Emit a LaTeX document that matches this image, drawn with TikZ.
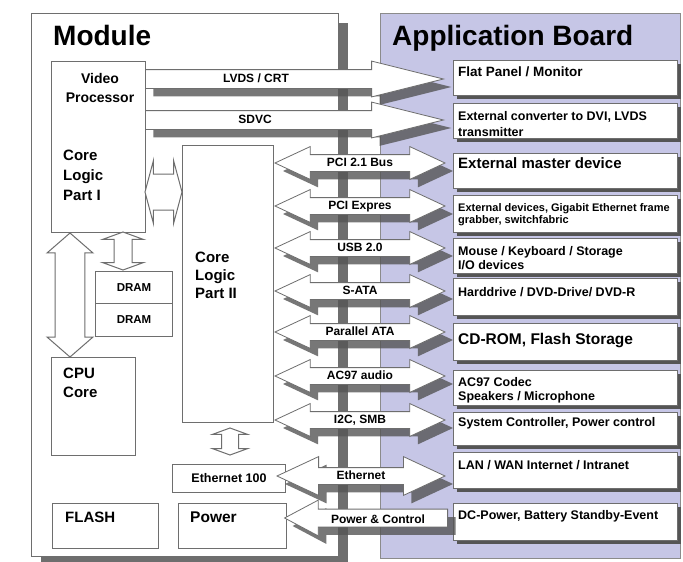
\documentclass[tikz,border=0pt]{standalone}
\usepackage{fontspec}
\setmainfont{Liberation Sans}
\usetikzlibrary{shapes.arrows,shadows,positioning}

\definecolor{boardfill}{RGB}{198,198,230}
\definecolor{lineg}{RGB}{110,110,110}
\definecolor{shadeg}{RGB}{85,85,85}

\newcommand{\bfsz}[2]{\bfseries\fontsize{#1}{#2}\selectfont}

\tikzset{
  box/.style={draw=lineg, line width=1pt, fill=white, anchor=north west, inner sep=0pt},
  appbox/.style={box, minimum width=224pt, minimum height=35pt,
    drop shadow={shadow xshift=3pt, shadow yshift=-3pt, fill=shadeg, opacity=1}},
  apptext/.style={anchor=north west, align=left, inner sep=0pt, xshift=5pt, yshift=-7pt, font=\bfsz{12.5}{15}},
  boxtext/.style={anchor=north west, inner sep=0pt, xshift=13pt, yshift=-8.5pt, font=\bfsz{15}{15}},
  bus/.style={draw=lineg, line width=.8pt, fill=white, inner xsep=0pt, inner ysep=2.5pt,
    text height=8.5pt, text depth=2.5pt, font=\bfsz{12}{12},
    drop shadow={shadow xshift=8pt, shadow yshift=-8pt, fill=shadeg, opacity=.8}},
  vbus/.style={bus, single arrow, anchor=tail, inner ysep=3.5pt, minimum height=298pt, minimum width=35pt,
    single arrow head extend=8.5pt, single arrow tip angle=28},
  dbus/.style={bus, double arrow, minimum height=170pt, minimum width=32pt,
    double arrow head extend=8pt, double arrow tip angle=50},
  buslabel/.style={inner sep=0pt, font=\bfsz{12}{12}},
  link/.style={draw=lineg, line width=1pt, fill=white, double arrow},
}

\begin{document}
\begin{tikzpicture}[x=1pt, y=-1pt]
  \useasboundingbox (0,0) rectangle (683,562);

  % Module
  \node[box, minimum width=307pt, minimum height=543pt,
    drop shadow={shadow xshift=9pt, shadow yshift=-9pt, fill=shadeg, opacity=.85}] (module) at (31,13) {};
  \node[anchor=base west, inner sep=0pt, font=\bfsz{28}{30}] (modtitle) at (53,45) {Module};

  % Application Board
  \node[box, fill=boardfill, draw=lineg!80, minimum width=300pt, minimum height=545pt] (board) at (380,13) {};
  \node[anchor=base west, inner sep=0pt, font=\bfsz{28}{30}] (apptitle) at (392,45) {Application Board};

  \node[appbox, label={[apptext, font=\bfsz{13.5}{15}]north west:Flat Panel / Monitor}] (flat) at (453,60) {};
  \node[appbox, label={[apptext, yshift=-1pt, font=\bfsz{12.5}{16}]north west:{External converter to DVI, LVDS\\transmitter}}] (conv) at (453,103) {};
  \node[appbox, label={[apptext, yshift=2.4pt, font=\bfsz{15}{15}]north west:External master device}] (master) at (453,153) {};
  \node[appbox, minimum height=37pt, label={[apptext, yshift=-1pt, font=\bfsz{11}{12.5}]north west:{External devices, Gigabit Ethernet frame\\grabber, switchfabric}}] (extdev) at (453,195) {};
  \node[appbox, label={[apptext, yshift=-1.5pt, font=\bfsz{12.5}{14}]north west:{Mouse / Keyboard / Storage\\I/O devices}}] (mouse) at (453,238) {};
  \node[appbox, minimum height=37pt, label={[apptext, yshift=-2.5pt]north west:Harddrive / DVD-Drive/ DVD-R}] (hdd) at (453,278) {};
  \node[appbox, minimum height=37pt, label={[apptext, yshift=-3.4pt, font=\bfsz{15.5}{16}]north west:{CD-ROM, Flash Storage}}] (cdrom) at (453,323) {};
  \node[appbox, label={[apptext, font=\bfsz{12.5}{14}]north west:{AC97 Codec\\Speakers / Microphone}}] (codec) at (453,370) {};
  \node[appbox, minimum height=33pt, label={[apptext, yshift=1.5pt]north west:{System Controller, Power control}}] (sysctl) at (453,412) {};
  \node[appbox, minimum height=36pt, label={[apptext, yshift=-1.5pt]north west:LAN / WAN Internet / Intranet}] (lan) at (453,452) {};
  \node[appbox, minimum height=37pt, label={[apptext]north west:{DC-Power, Battery Standby-Event}}] (dcpower) at (453,503) {};

  % Module parts
  \node[box, minimum width=94pt, minimum height=171pt] (cl1) at (51,61) {};
  \node[align=center, inner sep=0pt, font=\bfsz{14}{19}] (vp) at (100,87.5) {Video\\Processor};
  \node[align=left, anchor=west, inner sep=0pt, font=\bfsz{15}{20}] (cl1t) at (63,175) {Core\\Logic\\Part I};

  \node[box, minimum width=91pt, minimum height=277pt] (cl2) at (182,145) {};
  \node[align=left, anchor=west, inner sep=0pt, font=\bfsz{15}{18}] (cl2t) at (195,275) {Core\\Logic\\Part II};

  \node[box, minimum width=84pt, minimum height=98pt] (cpu) at (51,357) {};
  \node[align=left, anchor=west, inner sep=0pt, font=\bfsz{15}{19}] (cput) at (63,382.5) {CPU\\Core};

  \node[box, minimum width=77pt, minimum height=32pt, font=\bfsz{11.5}{12}] (dram1) at (95,271) {DRAM};
  \node[box, minimum width=77pt, minimum height=33pt, font=\bfsz{11.5}{12}] (dram2) at (95,303) {DRAM};

  \node[box, minimum width=113pt, minimum height=28pt, font=\bfsz{12.5}{13}] (eth100) at (172,464) {Ethernet 100};
  \node[box, minimum width=106pt, minimum height=45pt, label={[boxtext]north west:FLASH}] (flash) at (52,503) {};
  \node[box, minimum width=108pt, minimum height=45pt, label={[boxtext, xshift=-1pt, font=\bfsz{15.5}{16}]north west:Power}] (power) at (178,503) {};

  % links inside the module
  \node[link, inner xsep=0pt, inner ysep=17.5pt, minimum height=37pt, minimum width=62pt,
    double arrow head extend=13.5pt, double arrow tip angle=150] (l12) at (163.5,192) {};
  \node[link, shape border rotate=90, inner sep=14pt, minimum height=124pt, minimum width=46pt,
    double arrow head extend=8pt, double arrow tip angle=98] (lcpu) at (70,295) {};
  \node[link, shape border rotate=90, inner sep=8.5pt, minimum height=38pt, minimum width=40pt,
    double arrow head extend=11.5pt, double arrow tip angle=140] (ldram) at (123,251) {};
  \node[link, shape border rotate=90, inner sep=8pt, minimum height=27pt, minimum width=34pt,
    double arrow head extend=9pt, double arrow tip angle=140] (leth) at (230,441.5) {};

  % video busses
  \node[vbus] (lvds) at (145,79) {};
  \node[buslabel] at (256,78) {LVDS / CRT};
  \node[vbus] (sdvc) at (145,120) {};
  \node[buslabel] at (255,119) {SDVC};

  % busses of core logic part II
  \node[dbus] (pci) at (360,163) {PCI 2.1 Bus};
  \node[dbus] (pcie) at (360,206) {PCI Expres};
  \node[dbus] (usb) at (360,248) {USB 2.0};
  \node[dbus] (sata) at (360,291) {S-ATA};
  \node[dbus] (pata) at (360,332) {Parallel ATA};
  \node[dbus] (audio) at (360,376) {AC97 audio};
  \node[dbus] (i2c) at (360,420) {I2C, SMB};
  \node[dbus, minimum height=168pt, minimum width=38pt, double arrow head extend=11pt] (ethbus) at (361,476) {Ethernet};

  % power
  \node[bus, single arrow, shape border rotate=180, anchor=tail, inner ysep=3pt, minimum height=163pt, minimum width=35pt,
    single arrow head extend=9pt, single arrow tip angle=56] (pwrbus) at (448,518) {};
  \node[buslabel] at (378,519) {Power \& Control};
\end{tikzpicture}
\end{document}
